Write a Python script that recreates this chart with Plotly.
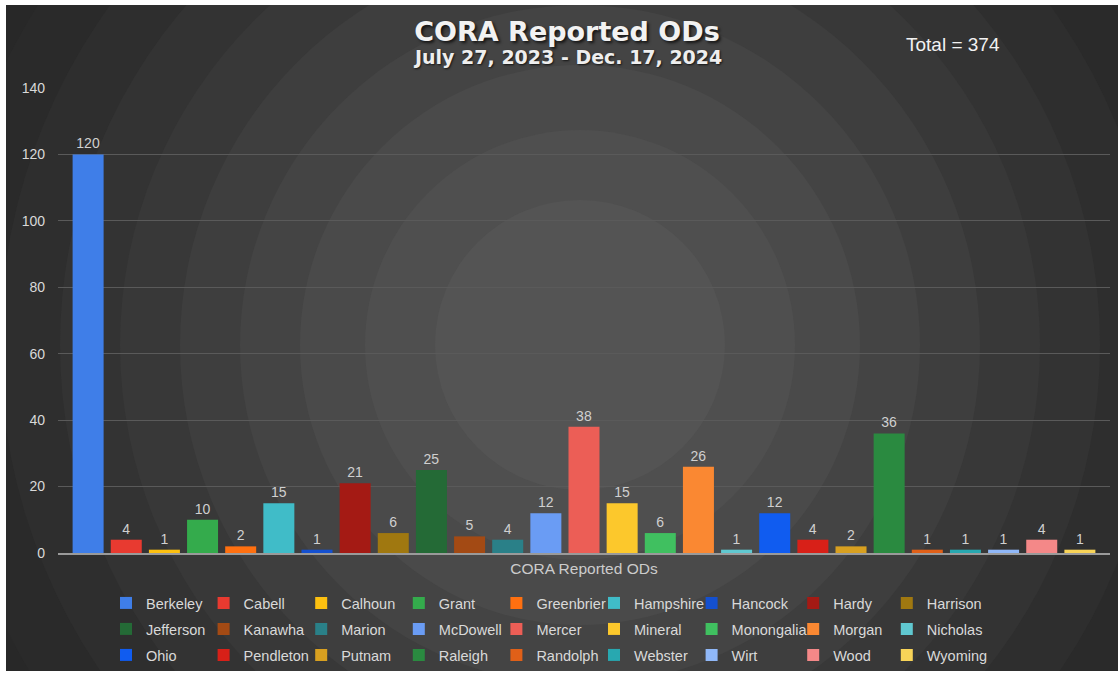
import plotly.graph_objects as go

# ---------------- data ----------------
counties = ["Berkeley", "Cabell", "Calhoun", "Grant", "Greenbrier", "Hampshire", "Hancock",
            "Hardy", "Harrison", "Jefferson", "Kanawha", "Marion", "McDowell", "Mercer",
            "Mineral", "Monongalia", "Morgan", "Nicholas", "Ohio", "Pendleton", "Putnam",
            "Raleigh", "Randolph", "Webster", "Wirt", "Wood", "Wyoming"]
values = [120, 4, 1, 10, 2, 15, 1, 21, 6, 25, 5, 4, 12, 38, 15, 6, 26, 1, 12, 4, 2, 36, 1, 1, 1, 4, 1]
category = "CORA Reported ODs"
title_text = "CORA Reported ODs"
subtitle_text = "July 27, 2023 - Dec. 17, 2024"
y_ticks = [0, 20, 40, 60, 80, 100, 120, 140]

# ---------------- style ----------------
colors = ["#3f7ee8", "#e83a30", "#fcc010", "#34ab4c", "#ff7010", "#40bcc8", "#1450d0",
          "#a41a14", "#a07810", "#246a36", "#a34a14", "#2a8088", "#6a9cf4", "#ec5e56",
          "#fcc82c", "#40c060", "#fa8832", "#60c8d0", "#105cf0", "#d82018", "#d8a020",
          "#2a8a40", "#e06018", "#28a8b0", "#90b8f8", "#f48888", "#f8d458"]

W, H = 1120, 673
L, R, T, B = 58, 10, 88, 120
PW, PH = W - L - R, H - T - B


def px(x):
    return (x - L) / PW


def py(y):
    return (H - B - y) / PH


FONT = "Liberation Sans, Arial, sans-serif"
TXT = "#d9d9d9"

# legend grid (pixel positions of text starts / row centres)
col_text_x = [146 + 97.6 * k for k in range(9)]
col_text_x[7] += 4
row_y = [603, 629, 655]

fig = go.Figure()
legend_layout = {}
for i, (name, v, c) in enumerate(zip(counties, values, colors)):
    lid = "legend" if i == 0 else "legend%d" % (i + 1)
    fig.add_trace(go.Bar(
        x=[category], y=[v], name=name,
        marker=dict(color=c, line=dict(width=0)),
        text=[v], textposition="outside",
        textfont=dict(size=14, color="#d0d0d0", family=FONT),
        cliponaxis=False,
        legend=lid,
        hovertemplate=name + ": %{y}<extra></extra>",
    ))
    legend_layout[lid] = dict(
        orientation="v", xanchor="left", yanchor="middle",
        x=px(col_text_x[i % 9] - 40), y=py(row_y[i // 9]),
        bgcolor="rgba(0,0,0,0)", borderwidth=0,
        font=dict(size=14.5, color=TXT, family=FONT))

# background: stepped radial gradient
cx, cy = 580, 345
rings = [(700, "#282828"), (640, "#2a2a2a"), (580, "#2e2e2e"), (520, "#333333"),
         (460, "#383838"), (400, "#3e3e3e"), (340, "#444444"), (280, "#4a4a4a"),
         (215, "#4f4f4f"), (145, "#545454")]
shapes = []
for r, col in rings:
    shapes.append(dict(type="circle", xref="paper", yref="paper", layer="below",
                       x0=px(cx - r), x1=px(cx + r), y0=py(cy + r), y1=py(cy - r),
                       fillcolor=col, line=dict(width=0)))
# white frame strips
for (x0, y0, x1, y1) in [(0, 0, 6, H), (0, 0, W, 5), (0, H - 2, W, H), (W - 2, 0, W, H)]:
    shapes.append(dict(type="rect", xref="paper", yref="paper", layer="above",
                       x0=px(x0), x1=px(x1), y0=py(y1), y1=py(y0),
                       fillcolor="white", line=dict(width=0)))

fig.update_layout(
    width=W, height=H,
    margin=dict(l=L, r=R, t=T, b=B, autoexpand=False),
    paper_bgcolor="#262626", plot_bgcolor="rgba(0,0,0,0)",
    barmode="group", bargap=0.021, bargroupgap=0.187,
    title=dict(text=title_text, x=567 / W, xanchor="center", xref="container",
               y=1 - 32 / H, yanchor="middle", yref="container",
               font=dict(family="DejaVu Sans, sans-serif", size=27, color="#f2f2f2",
                         weight="bold", shadow="2px 2px 3px rgba(0,0,0,0.7)")),
    annotations=[
        dict(text=subtitle_text, xref="paper", yref="paper", x=px(567), y=py(57),
             xanchor="center", yanchor="middle", showarrow=False,
             font=dict(family="DejaVu Sans, sans-serif", size=19, color="#eeeeee",
                       weight="bold", shadow="1px 1px 2px rgba(0,0,0,0.7)")),
        dict(text="Total = %d" % sum(values), xref="paper", yref="paper", x=px(904), y=py(45),
             xanchor="left", yanchor="middle", showarrow=False,
             font=dict(family=FONT, size=19, color="#f2f2f2")),
    ],
    shapes=shapes,
    xaxis=dict(showgrid=False, showline=True, linecolor="#9a9a9a", linewidth=2,
               ticks="", tickfont=dict(size=15.5, color="#cccccc", family=FONT),
               zeroline=False),
    yaxis=dict(range=[0, 140], tickvals=y_ticks, showgrid=True, gridcolor="#5a5a5a",
               gridwidth=1, zeroline=False, showline=False, ticks="",
               ticklabelstandoff=12,
               tickfont=dict(size=14, color=TXT, family=FONT)),
    showlegend=True,
    **legend_layout,
)

fig.write_html("out.html", config={"displayModeBar": False},
               post_script="document.body.style.margin='0';")
